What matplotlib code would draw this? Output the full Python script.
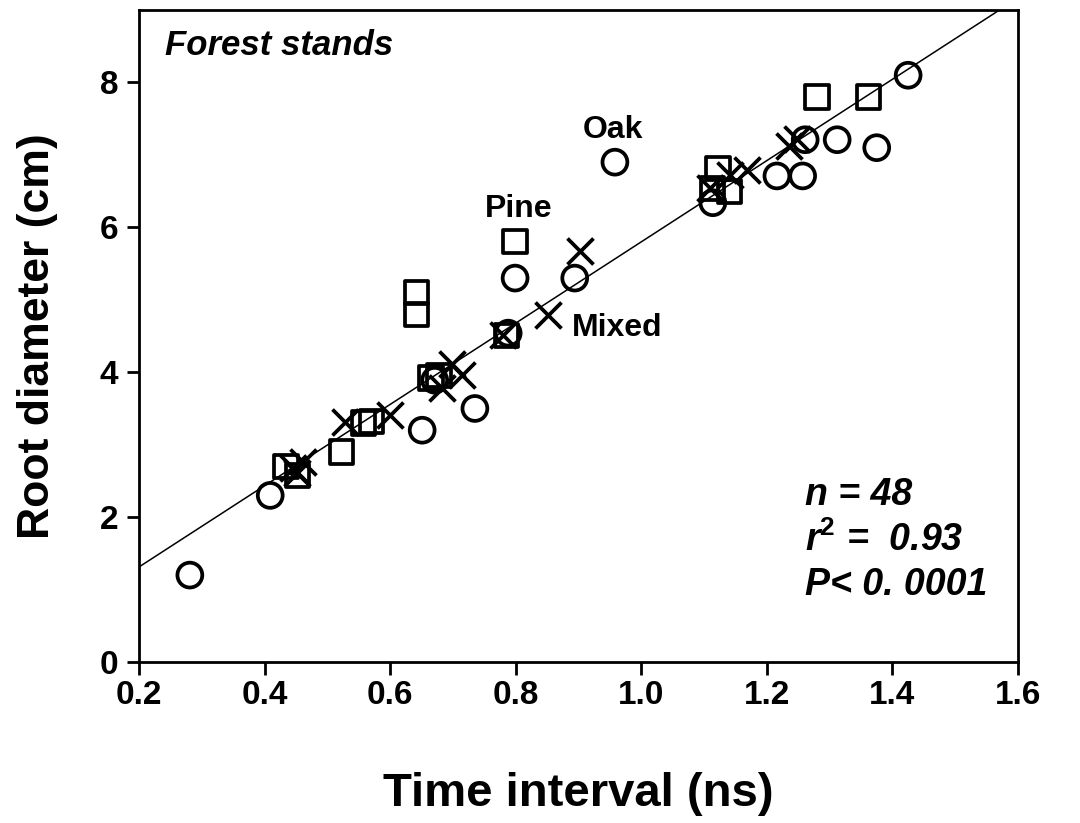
import matplotlib
matplotlib.use("Agg")
import matplotlib.pyplot as plt
import numpy as np

plt.rcParams['font.family'] = ['Liberation Sans', 'DejaVu Sans']
plt.rcParams['font.weight'] = 'bold'
plt.rcParams['mathtext.fontset'] = 'custom'
plt.rcParams['mathtext.bf'] = 'Liberation Sans:bold'
plt.rcParams['mathtext.it'] = 'Liberation Sans:italic:bold'
plt.rcParams['mathtext.rm'] = 'Liberation Sans:bold'

# Oak stands (circles)
oak_x = [0.281, 0.409, 0.651, 0.735, 0.671, 0.788, 0.799, 0.894, 0.958, 1.114,
         1.216, 1.257, 1.261, 1.312, 1.375, 1.425]
oak_y = [1.20, 2.30, 3.20, 3.50, 3.89, 4.54, 5.30, 5.30, 6.90, 6.34,
         6.71, 6.71, 7.21, 7.21, 7.10, 8.10]

# Pine stands (squares)
pine_x = [0.434, 0.452, 0.522, 0.558, 0.570, 0.665, 0.678, 0.642, 0.642, 0.785,
          0.799, 1.113, 1.122, 1.141, 1.280, 1.362]
pine_y = [2.70, 2.57, 2.90, 3.30, 3.32, 3.92, 3.95, 4.80, 5.10, 4.51,
          5.80, 6.54, 6.81, 6.49, 7.80, 7.80]

# Mixed stands (crosses)
mixed_x = [0.452, 0.461, 0.528, 0.600, 0.683, 0.698, 0.714, 0.780, 0.851, 0.902,
           1.110, 1.141, 1.168, 1.236, 1.248, 0.445]
mixed_y = [2.61, 2.76, 3.31, 3.41, 3.78, 4.12, 3.96, 4.52, 4.79, 5.68,
           6.55, 6.72, 6.79, 7.12, 7.22, 2.68]

# regression line
slope = 5.61
intercept = 0.19

fig = plt.figure(figsize=(10.8, 8.23), dpi=100)
ax = fig.add_axes([0.1287, 0.1956, 0.8139, 0.7922])

xl = np.array([0.2, 1.6])
ax.plot(xl, slope * xl + intercept, color='black', lw=1.1, zorder=1)

ax.scatter(oak_x, oak_y, s=320, marker='o', facecolors='none',
           edgecolors='black', linewidths=2.7, zorder=3)
ax.scatter(pine_x, pine_y, s=280, marker='s', facecolors='none',
           edgecolors='black', linewidths=2.7, zorder=3)
ax.scatter(mixed_x, mixed_y, s=350, marker='x', color='black',
           linewidths=2.7, zorder=3)

ax.set_xlim(0.2, 1.6)
ax.set_ylim(0, 9)
ax.set_xticks([0.2, 0.4, 0.6, 0.8, 1.0, 1.2, 1.4, 1.6])
ax.set_yticks([0, 2, 4, 6, 8])
ax.set_xticklabels(['0.2', '0.4', '0.6', '0.8', '1.0', '1.2', '1.4', '1.6'])
ax.tick_params(direction='out', length=9, width=2, labelsize=24, pad=4)
ax.tick_params(axis='y', pad=6)
for sp in ax.spines.values():
    sp.set_linewidth(2)

ax.set_xlabel('Time interval (ns)', fontsize=34, fontweight='bold', labelpad=44)
ax.set_ylabel('Root diameter (cm)', fontsize=32, fontweight='bold', labelpad=30)

ax.text(0.241, 8.51, 'Forest stands', fontsize=25, style='italic',
        fontweight='bold', va='center', ha='left')
ax.text(0.955, 7.34, 'Oak', fontsize=23, fontweight='bold', ha='center', va='center')
ax.text(0.804, 6.26, 'Pine', fontsize=23, fontweight='bold', ha='center', va='center')
ax.text(0.89, 4.61, 'Mixed', fontsize=23, fontweight='bold', ha='left', va='center')

ax.text(1.261, 2.30, 'n = 48', fontsize=27, style='italic', fontweight='bold', va='center')
ax.text(1.261, 1.68, 'r$^{\\mathbf{2}}$ =  0.93', fontsize=27, style='italic',
        fontweight='bold', va='center')
ax.text(1.261, 1.06, 'P< 0. 0001', fontsize=27, style='italic', fontweight='bold', va='center')

fig.savefig('out.png', dpi=100)
